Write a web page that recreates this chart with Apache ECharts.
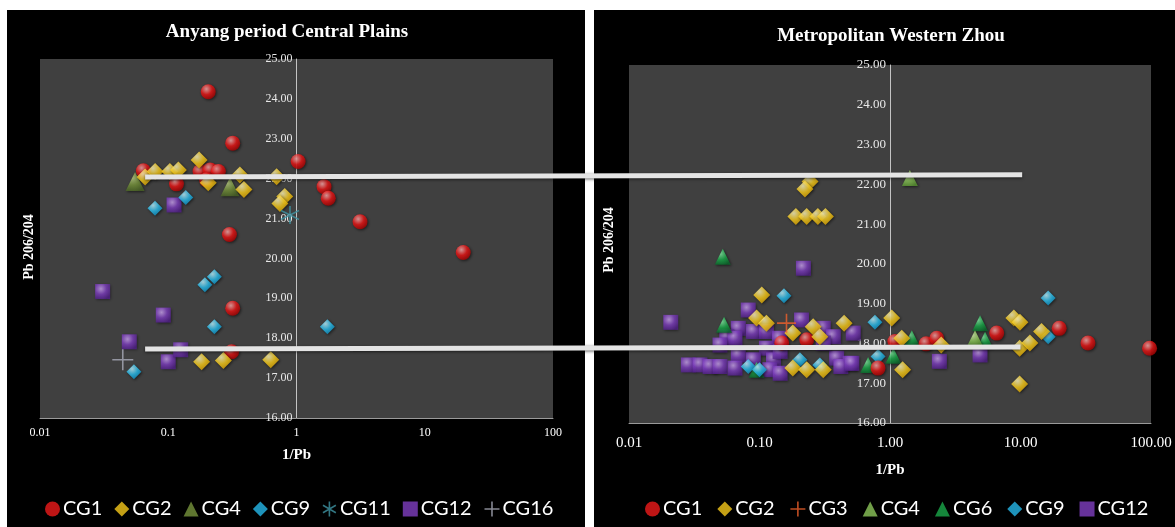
<!DOCTYPE html>
<html><head><meta charset="utf-8">
<script src="https://cdn.jsdelivr.net/npm/echarts@6.0.0/dist/echarts.min.js"></script>
<style>
html,body{margin:0;padding:0;background:#fff;width:1175px;height:527px;overflow:hidden}
.panel{position:absolute;background:#000}
#p1{left:7px;top:10px;width:578px;height:517px}
#p2{left:594px;top:10px;width:581px;height:517px}
#chart{position:absolute;left:0;top:0;width:1175px;height:527px}
</style></head><body>
<div class="panel" id="p1"></div><div class="panel" id="p2"></div>
<div id="chart"></div>
<script>
// ---------- DATA : [1/Pb, Pb206/204] ----------
const panelTitles = ['Anyang period Central Plains', 'Metropolitan Western Zhou'];
const xAxisTitle = '1/Pb';
const yAxisTitle = 'Pb 206/204';
const yTickMin = 16, yTickMax = 25, yTickStep = 1;
const xLogMin = 0.01, xLogMax = 100;

// Left panel: Anyang period Central Plains
const anyangCG1 = [[0.205,24.18],[0.318,22.89],[0.064,22.2],[0.116,21.87],[0.177,22.18],[0.212,22.22],[0.246,22.18],[0.199,21.97],[0.30,20.6],[0.318,18.75],[0.312,17.66],[1.03,22.43],[1.64,21.80],[1.77,21.51],[3.13,20.92],[19.96,20.15]];
const anyangCG2 = [[0.066,22.04],[0.079,22.18],[0.103,22.18],[0.12,22.22],[0.174,22.47],[0.205,21.9],[0.362,22.09],[0.389,21.73],[0.70,22.05],[0.81,21.55],[0.743,21.38],[0.182,17.41],[0.269,17.44],[0.63,17.46]];
const anyangCG4 = [[0.0551,21.93],[0.303,21.80]];
const anyangCG9 = [[0.0788,21.26],[0.137,21.53],[0.193,19.34],[0.229,19.54],[0.229,18.29],[0.054,17.16],[1.74,18.29]];
const anyangCG11 = [[0.89,21.09]];
const anyangCG12 = [[0.111,21.34],[0.0308,19.17],[0.0915,18.58],[0.0497,17.91],[0.1,17.41],[0.125,17.71]];
const anyangCG16 = [[0.0442,17.46]];

// Right panel: Metropolitan Western Zhou
const zhouCG1 = [[0.148,18.01],[0.23,18.09],[0.81,17.38],[1.09,18.05],[1.89,17.99],[2.28,18.13],[6.57,18.26],[19.8,18.38],[32.9,18.01],[97.5,17.88]];
const zhouCG2 = [[0.244,22.07],[0.223,21.88],[0.19,21.19],[0.23,21.19],[0.28,21.19],[0.32,21.19],[0.104,19.22],[0.095,18.64],[0.113,18.51],[0.18,18.26],[0.258,18.42],[0.445,18.51],[0.29,18.17],[0.18,17.38],[0.23,17.34],[0.308,17.34],[1.03,18.64],[1.25,17.34],[1.23,18.13],[2.47,17.96],[8.9,18.64],[9.9,18.53],[9.85,17.88],[11.8,18.01],[9.85,16.98],[14.5,18.30]];
const zhouCG3 = [[0.161,18.51]];
const zhouCG4 = [[1.42,22.16],[4.48,18.13]];
const zhouCG6 = [[0.0523,20.18],[0.0535,18.47],[0.095,17.34],[0.68,17.46],[1.06,17.69],[1.47,18.13],[4.9,18.51],[5.35,18.09]];
const zhouCG9 = [[0.154,19.20],[0.082,17.42],[0.10,17.34],[0.204,17.59],[0.29,17.46],[0.767,18.53],[0.81,17.67],[16.3,19.14],[16.3,18.17]];
const zhouCG12 = [[0.217,19.89],[0.082,18.84],[0.0209,18.53],[0.21,18.59],[0.308,18.38],[0.368,18.17],[0.523,18.26],[0.0688,18.38],[0.0897,18.30],[0.113,18.30],[0.142,18.13],[0.0561,18.17],[0.0649,18.13],[0.0498,17.96],[0.113,17.88],[0.0688,17.71],[0.0897,17.59],[0.128,17.59],[0.144,17.80],[0.0285,17.46],[0.035,17.46],[0.0418,17.42],[0.0498,17.42],[0.0649,17.38],[0.12,17.34],[0.144,17.25],[0.39,17.63],[0.494,17.50],[0.42,17.42],[0.308,18.01],[0.51,17.50],[2.39,17.55],[4.9,17.71]];

// Guide lines drawn across both panels: [left-panel point, right-panel point]
const guideUpper = [[0.066,22.04],[10.3,22.24]];
const guideLower = [[0.066,17.73],[10.0,17.91]];

// ---------- STYLES ----------
function glossy(light, base, dark){
  return {type:'radial', x:0.38, y:0.32, r:0.75, colorStops:[{offset:0,color:light},{offset:0.5,color:base},{offset:1,color:dark}]};
}
const ST = {
  CG1:  {symbol:'circle',  size:15, color:glossy('#ffb0b0','#f01818','#a00000')},
  CG2:  {symbol:'diamond', size:17, color:glossy('#fff8c0','#ffd21f','#d49c00')},
  CG3:  {symbol:'path://M5 0L5 10M0 5L10 5', size:19, stroke:'#f0602a'},
  CG4L: {symbol:'triangle',size:19, color:glossy('#b8cc80','#7a983e','#4c6626')},
  CG4R: {symbol:'triangle',size:16, color:glossy('#d2f0a8','#8fca5c','#5a9632')},
  CG6:  {symbol:'triangle',size:16, color:glossy('#80eaa0','#1cae4c','#0b6a2c')},
  CG9:  {symbol:'diamond', size:15, color:glossy('#c0f4ff','#2cc2f2','#0a84b6')},
  CG11: {symbol:'path://M5 0L5 10M0.7 2.5L9.3 7.5M0.7 7.5L9.3 2.5', size:18, stroke:'#3f93a3'},
  CG12: {symbol:'rect',    size:15, color:glossy('#d0a8f6','#8242c4','#52208a')},
  CG16: {symbol:'path://M5 0L5 10M0 5L10 5', size:21, stroke:'#a8aab8'}
};
const solidColor = {CG1:'#ee1a1a',CG2:'#f5c81a',CG4L:'#77943c',CG4R:'#8cc65a',CG6:'#1aa84a',CG9:'#25b8ea',CG12:'#7f3fc0'};

function series(name, key, data, gi){
  const s = ST[key];
  const itemStyle = s.stroke
    ? {color:'rgba(0,0,0,0)', borderColor:s.stroke, borderWidth:1.6}
    : {color:s.color, shadowBlur:3, shadowColor:'rgba(0,0,0,0.7)', shadowOffsetX:1, shadowOffsetY:1};
  return {type:'scatter', name, xAxisIndex:gi, yAxisIndex:gi, data, symbol:s.symbol, symbolSize:s.size, itemStyle, emphasis:{disabled:true}, z:3};
}
function legendItem(name, key){
  const s = ST[key];
  return s.stroke
    ? {name, icon:s.symbol, itemStyle:{color:'rgba(0,0,0,0)', borderColor:s.stroke, borderWidth:1.6}}
    : {name, icon:s.symbol, itemStyle:{color:solidColor[key], borderWidth:0}};
}

const SERIF = '"Liberation Serif","Times New Roman",serif';
const grids = [
  {left:40, top:59, width:513, height:359},
  {left:629, top:65, width:522, height:358}
];

function xAxisFor(gi, fontSize, margin, nameGap, fmt){
  return {type:'log', logBase:10, gridIndex:gi, min:xLogMin, max:xLogMax,
    axisLine:{show:true, lineStyle:{color:'#9a9a9a', width:1}},
    axisTick:{show:false}, splitLine:{show:false}, minorTick:{show:false},
    axisLabel:{color:'#ffffff', fontFamily:SERIF, fontSize, margin, formatter:fmt},
    name:xAxisTitle, nameLocation:'middle', nameGap,
    nameTextStyle:{color:'#ffffff', fontFamily:SERIF, fontWeight:'bold', fontSize:15}};
}
function yAxisFor(gi, fontSize){
  return {type:'value', gridIndex:gi, min:yTickMin, max:yTickMax, interval:yTickStep,
    position:'left', offset:-grids[gi].width/2,
    axisLine:{show:true, onZero:false, lineStyle:{color:'#c4c4c4', width:1}},
    axisTick:{show:false}, splitLine:{show:false},
    axisLabel:{color:'#e8e8e8', fontFamily:SERIF, fontSize, margin:4, formatter:v=>v.toFixed(2)}};
}

const chart = echarts.init(document.getElementById('chart'), null, {renderer:'canvas'});
const legendText = {color:'#fff', fontSize:20, fontFamily:'Lato, "Noto Sans", sans-serif', padding:[0,0,0,-2]};
const option = {
  backgroundColor:'transparent',
  animation:false,
  title:[
    {text:panelTitles[0], left:282, top:18, textAlign:'center', textStyle:{color:'#fff', fontFamily:SERIF, fontWeight:'bold', fontSize:19}},
    {text:panelTitles[1], left:886, top:22, textAlign:'center', textStyle:{color:'#fff', fontFamily:SERIF, fontWeight:'bold', fontSize:19}}
  ],
  grid: grids.map(g=>Object.assign({show:true, backgroundColor:'#404040', borderWidth:0, containLabel:false}, g)),
  xAxis:[
    xAxisFor(0, 12, 9, 30, v=>String(v)),
    xAxisFor(1, 15, 13, 40, v=>Number(v).toFixed(2))
  ],
  yAxis:[yAxisFor(0, 12), yAxisFor(1, 13)],
  legend:[
    {left:40, top:494, itemGap:12, itemWidth:15, itemHeight:15, textStyle:legendText,
     data:[legendItem('CG1','CG1'),legendItem('CG2','CG2'),legendItem('CG4','CG4L'),legendItem('CG9','CG9'),legendItem('CG11','CG11'),legendItem('CG12','CG12'),legendItem('CG16','CG16')],
     selectedMode:false},
    {left:640, top:494, itemGap:15, itemWidth:15, itemHeight:15, textStyle:legendText,
     data:[legendItem('CG1','CG1'),legendItem('CG2','CG2'),legendItem('CG3','CG3'),legendItem('CG4','CG4R'),legendItem('CG6','CG6'),legendItem('CG9','CG9'),legendItem('CG12','CG12')],
     selectedMode:false}
  ],
  series:[
    series('CG12','CG12',anyangCG12,0),
    series('CG9','CG9',anyangCG9,0),
    series('CG4','CG4L',anyangCG4,0),
    series('CG1','CG1',anyangCG1,0),
    series('CG2','CG2',anyangCG2,0),
    series('CG11','CG11',anyangCG11,0),
    series('CG16','CG16',anyangCG16,0),
    series('CG12','CG12',zhouCG12,1),
    series('CG6','CG6',zhouCG6,1),
    series('CG4','CG4R',zhouCG4,1),
    series('CG9','CG9',zhouCG9,1),
    series('CG1','CG1',zhouCG1,1),
    series('CG2','CG2',zhouCG2,1),
    series('CG3','CG3',zhouCG3,1)
  ],
  graphic:[
    {type:'text', x:29, y:247, rotation:Math.PI/2, style:{text:yAxisTitle, fill:'#fff', font:'bold 14px '+SERIF, align:'center', verticalAlign:'middle'}},
    {type:'text', x:609, y:240, rotation:Math.PI/2, style:{text:yAxisTitle, fill:'#fff', font:'bold 14px '+SERIF, align:'center', verticalAlign:'middle'}}
  ]
};
chart.setOption(option);

function guideLine(g){
  const a = chart.convertToPixel({gridIndex:0}, g[0]);
  const b = chart.convertToPixel({gridIndex:1}, g[1]);
  return {type:'line', z:100, shape:{x1:a[0], y1:a[1], x2:b[0], y2:b[1]},
    style:{stroke:'#e4e4e4', lineWidth:5, lineCap:'butt', shadowBlur:3, shadowColor:'rgba(0,0,0,0.6)', shadowOffsetY:1}};
}
chart.setOption({graphic: option.graphic.concat([guideLine(guideUpper), guideLine(guideLower)])});
</script>
</body></html>
